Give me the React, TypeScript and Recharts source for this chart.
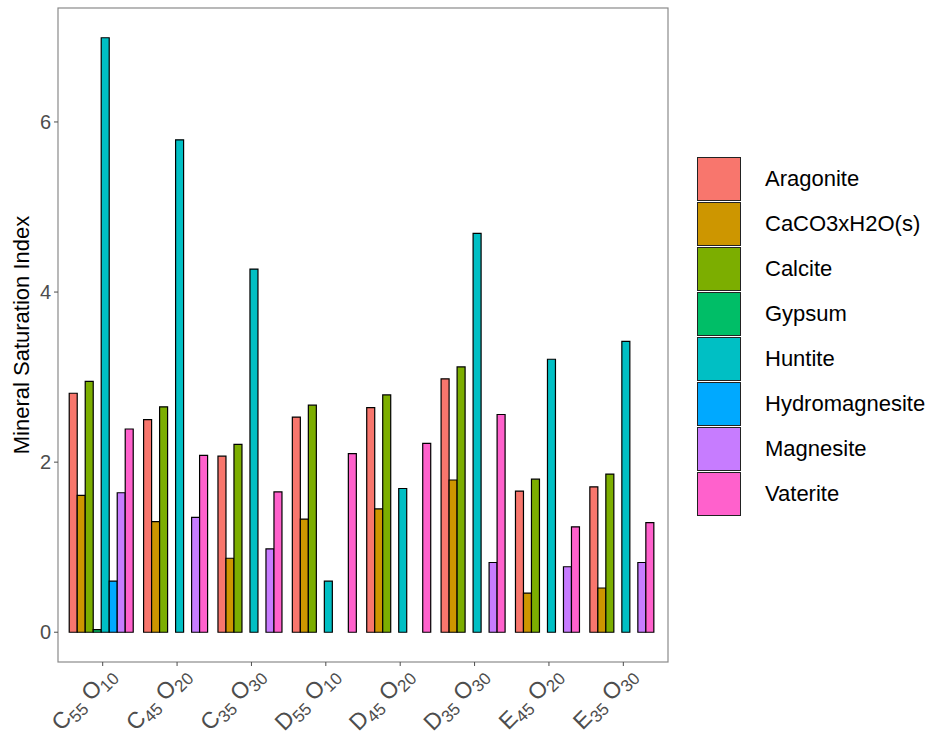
import { BarChart, Bar, XAxis, YAxis, usePlotArea } from "recharts";

const categories = ["C55O10", "C45O20", "C35O30", "D55O10", "D45O20", "D35O30", "E45O20", "E35O30"];

const minerals = ["Aragonite", "CaCO3xH2O(s)", "Calcite", "Gypsum", "Huntite", "Hydromagnesite", "Magnesite", "Vaterite"];
const colors = ["#F8766D", "#CD9600", "#7CAE00", "#00BE67", "#00BFC4", "#00A9FF", "#C77CFF", "#FF61CC"];

const aragonite = [2.81, 2.5, 2.07, 2.53, 2.64, 2.98, 1.66, 1.71];
const caco3 = [1.61, 1.3, 0.87, 1.33, 1.45, 1.79, 0.46, 0.52];
const calcite = [2.95, 2.65, 2.21, 2.67, 2.79, 3.12, 1.8, 1.86];
const gypsum = [0.03, null, null, null, null, null, null, null];
const huntite = [6.99, 5.79, 4.27, 0.6, 1.69, 4.69, 3.21, 3.42];
const hydromagnesite = [0.6, null, null, null, null, null, null, null];
const magnesite = [1.64, 1.35, 0.98, null, null, 0.82, 0.77, 0.82];
const vaterite = [2.39, 2.08, 1.65, 2.1, 2.22, 2.56, 1.24, 1.29];

const yTicks = [0, 2, 4, 6];

const series = [aragonite, caco3, calcite, gypsum, huntite, hydromagnesite, magnesite, vaterite];

const data = categories.map((c, i) => {
  const row: Record<string, any> = { name: c };
  minerals.forEach((m, j) => (row[m] = series[j][i]));
  return row;
});

const FONT = "'Liberation Sans', Arial, Helvetica, sans-serif";

// C55O10 -> C[55] O[10]
function XTick({ x, y, payload }: any) {
  const m = /^([A-Z])(\d+)([A-Z])(\d+)$/.exec(payload.value) || [];
  return (
    <g transform={`translate(${x + 14},${y + 8}) rotate(-45)`}>
      <text textAnchor="end" fill="#4D4D4D" fontFamily={FONT} fontSize={23}>
        <tspan>{m[1]}</tspan>
        <tspan fontSize={17} dy={5}>{m[2]}</tspan>
        <tspan dy={-5}> {m[3]}</tspan>
        <tspan fontSize={17} dy={5}>{m[4]}</tspan>
      </text>
    </g>
  );
}

function PanelBorder() {
  const area = usePlotArea();
  if (!area) return null;
  return (
    <rect x={area.x} y={area.y} width={area.width} height={area.height} fill="none" stroke="#8a8a8a" strokeWidth={1.2} />
  );
}

function YTitle({ viewBox }: any) {
  const cy = viewBox.y + viewBox.height / 2;
  return (
    <text
      x={21}
      y={cy}
      transform={`rotate(-90, 21, ${cy})`}
      textAnchor="middle"
      dominantBaseline="central"
      fontFamily={FONT}
      fontSize={22}
      fill="#000"
    >
      Mineral Saturation Index
    </text>
  );
}

function LegendBox() {
  return (
    <div style={{ position: "absolute", left: 697, top: 156, fontFamily: FONT }}>
      {minerals.map((m, j) => (
        <div key={m} style={{ display: "flex", alignItems: "center", height: 45 }}>
          <div
            style={{
              width: 44,
              height: 44,
              boxSizing: "border-box",
              background: colors[j],
              border: "1.5px solid #222",
            }}
          />
          <span style={{ marginLeft: 24, fontSize: 22, color: "#000" }}>{m}</span>
        </div>
      ))}
    </div>
  );
}

export default function App() {
  return (
    <div style={{ position: "absolute", left: 0, top: 0, width: 930, height: 736, background: "#fff" }}>
      <BarChart
        width={930}
        height={736}
        data={data}
        margin={{ top: 8, right: 262, bottom: 0, left: 0 }}
        barCategoryGap="5%"
        barGap={0}
      >
        <XAxis
          dataKey="name"
          height={74}
          padding={{ left: 7.5, right: 7.5 }}
          axisLine={false}
          tickLine={{ stroke: "#4D4D4D" }}
          tickSize={4}
          interval={0}
          tick={<XTick />}
        />
        <YAxis
          width={58}
          domain={[-0.35, 7.34]}
          allowDataOverflow
          ticks={yTicks}
          axisLine={false}
          tickLine={{ stroke: "#4D4D4D" }}
          tickSize={4}
          tickMargin={3}
          tick={{ fill: "#4D4D4D", fontSize: 20, fontFamily: FONT }}
          label={{ content: YTitle }}
        />
        {minerals.map((m, j) => (
          <Bar
            key={m}
            dataKey={m}
            name={m}
            fill={colors[j]}
            stroke="#000"
            strokeWidth={1.2}
            isAnimationActive={false}
          />
        ))}
        <PanelBorder />
      </BarChart>
      <LegendBox />
    </div>
  );
}
